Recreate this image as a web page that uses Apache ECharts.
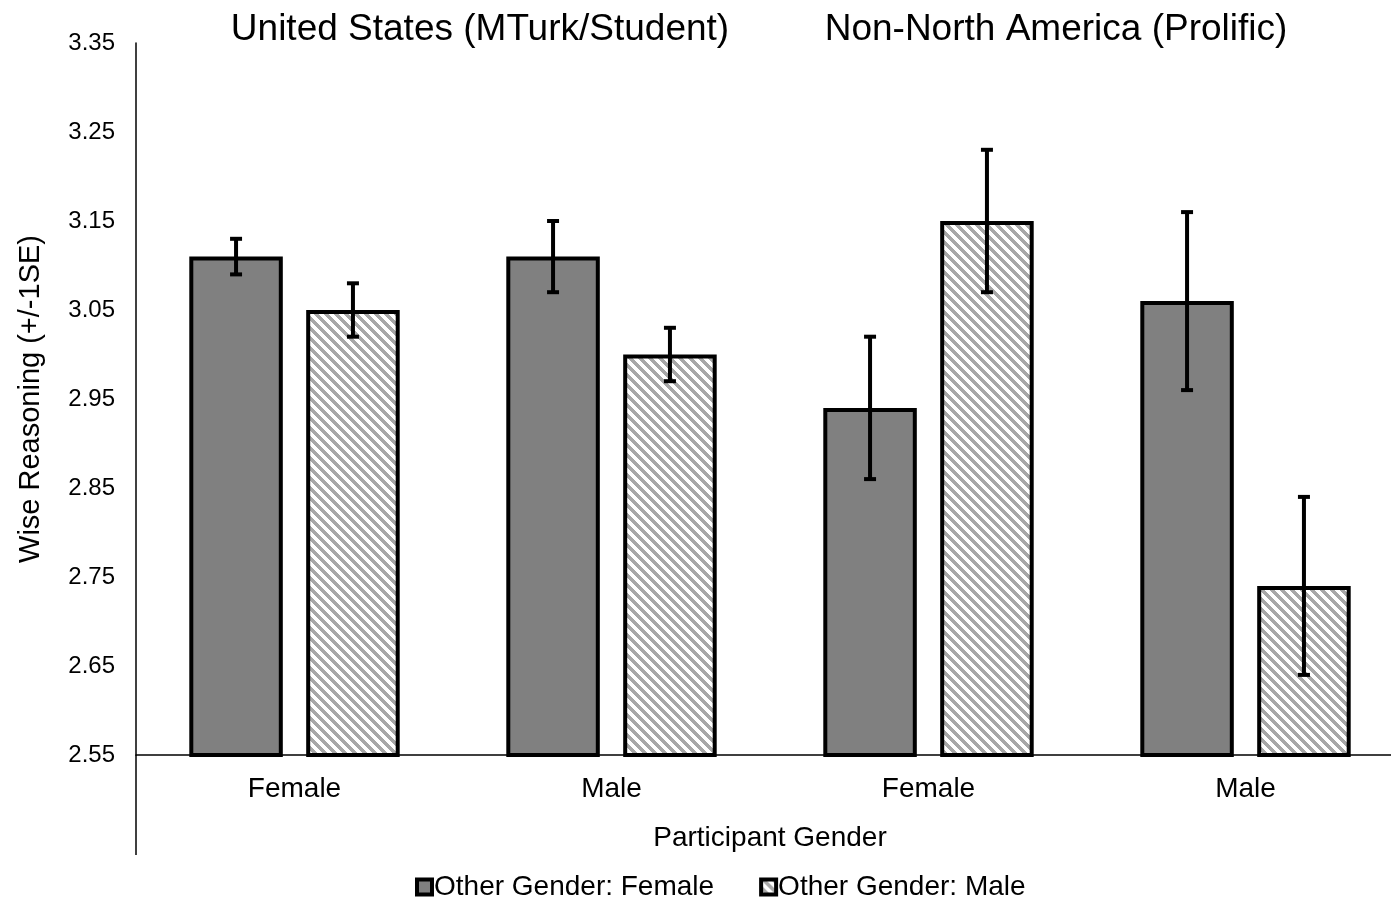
<!DOCTYPE html>
<html><head><meta charset="utf-8">
<script src="https://cdn.jsdelivr.net/npm/echarts@6/dist/echarts.min.js"></script>
<style>html,body{margin:0;padding:0;background:#fff;overflow:hidden;width:1391px;height:910px}#c{width:1404px;height:910px}</style>
</head><body><div id="c"></div>
<script>
const categories = ['Female', 'Male', 'Female', 'Male'];
const femaleOther = [3.11, 3.11, 2.94, 3.06];
const femaleOtherSE = [0.02, 0.04, 0.08, 0.10];
const maleOther = [3.05, 3.00, 3.15, 2.74];
const maleOtherSE = [0.03, 0.03, 0.08, 0.10];
const yTicks = [2.55, 2.65, 2.75, 2.85, 2.95, 3.05, 3.15, 3.25, 3.35];
const groupTitles = ['United States (MTurk/Student)', 'Non-North America (Prolific)'];

const FONT = 'Liberation Sans, Arial, sans-serif';
const P = 10;
const pc = document.createElement('canvas');
pc.width = P; pc.height = P;
const pctx = pc.getContext('2d');
pctx.fillStyle = '#fff'; pctx.fillRect(0, 0, P, P);
pctx.fillStyle = '#a8a8a8';
for (let x = 0; x < P; x++) for (let y = 0; y < P; y++) {
  if ((((x - y) % P) + P) % P < 5) pctx.fillRect(x, y, 1, 1);
}

const BW = 0.295, BG = 0.25;
const chart = echarts.init(document.getElementById('c'));
function errSeries(vals, se, idx) {
  return {
    type: 'custom', z: 10, silent: true,
    data: vals.map((v, i) => [i, v - se[i], v + se[i]]),
    renderItem: function (params, api) {
      const ci = api.value(0);
      const lo = api.coord([ci, api.value(1)]);
      const hi = api.coord([ci, api.value(2)]);
      const bw = api.size([1, 0])[0];
      const barW = bw * BW, gap = barW * BG;
      const off = (idx === 0 ? -1 : 1) * (barW + gap) / 2;
      const x = lo[0] + off, h = 6;
      const st = { stroke: '#000', lineWidth: 4 };
      return { type: 'group', children: [
        { type: 'line', shape: { x1: x, y1: lo[1], x2: x, y2: hi[1] }, style: st },
        { type: 'line', shape: { x1: x - h, y1: lo[1], x2: x + h, y2: lo[1] }, style: st },
        { type: 'line', shape: { x1: x - h, y1: hi[1], x2: x + h, y2: hi[1] }, style: st }
      ]};
    }
  };
}
chart.setOption({
  animation: false,
  textStyle: { fontFamily: FONT },
  title: [
    { text: groupTitles[0], left: 475, top: 6, textAlign: 'center', textStyle: { fontFamily: FONT, fontSize: 37, fontWeight: 'normal', color: '#000' } },
    { text: groupTitles[1], left: 1051, top: 6, textAlign: 'center', textStyle: { fontFamily: FONT, fontSize: 37, fontWeight: 'normal', color: '#000' } }
  ],
  legend: {
    bottom: 4, left: 410, itemWidth: 15, itemHeight: 15, itemGap: 45,
    icon: 'rect',
    itemStyle: { borderColor: '#000', borderWidth: 4 },
    textStyle: { fontFamily: FONT, fontSize: 28, color: '#000', padding: [0, 0, 0, -3] },
    data: ['Other Gender: Female', 'Other Gender: Male']
  },
  grid: { left: 136, top: 43, width: 1268, height: 712 },
  xAxis: {
    type: 'category', data: categories,
    axisLine: { lineStyle: { color: '#000', width: 1.5 } },
    axisTick: { show: false },
    axisLabel: { color: '#000', fontSize: 28, margin: 20, fontFamily: FONT },
    name: 'Participant Gender', nameLocation: 'middle', nameGap: 69,
    nameTextStyle: { color: '#000', fontSize: 28, fontFamily: FONT }
  },
  yAxis: {
    type: 'value', min: 2.55, max: 3.35, interval: 0.1,
    axisLine: { show: true, lineStyle: { color: '#000', width: 1.5 } },
    axisTick: { show: false }, splitLine: { show: false },
    axisLabel: { color: '#000', fontSize: 24, margin: 21, fontFamily: FONT, formatter: v => v.toFixed(2) },
    name: 'Wise Reasoning (+/-1SE)', nameLocation: 'middle', nameGap: 91,
    nameTextStyle: { color: '#000', fontSize: 29, fontFamily: FONT }
  },
  graphic: [{ type: 'line', shape: { x1: 136, y1: 755, x2: 136, y2: 855 }, style: { stroke: '#000', lineWidth: 1.5 } }],
  series: [
    { name: 'Other Gender: Female', type: 'bar', data: femaleOther, barWidth: (BW * 100) + '%', barGap: (BG * 100) + '%',
      itemStyle: { color: '#808080', borderColor: '#000', borderWidth: 4 } },
    { name: 'Other Gender: Male', type: 'bar', data: maleOther, barWidth: (BW * 100) + '%', barGap: (BG * 100) + '%',
      itemStyle: { color: { image: pc, repeat: 'repeat' }, borderColor: '#000', borderWidth: 4 } },
    errSeries(femaleOther, femaleOtherSE, 0),
    errSeries(maleOther, maleOtherSE, 1)
  ]
});
</script></body></html>
